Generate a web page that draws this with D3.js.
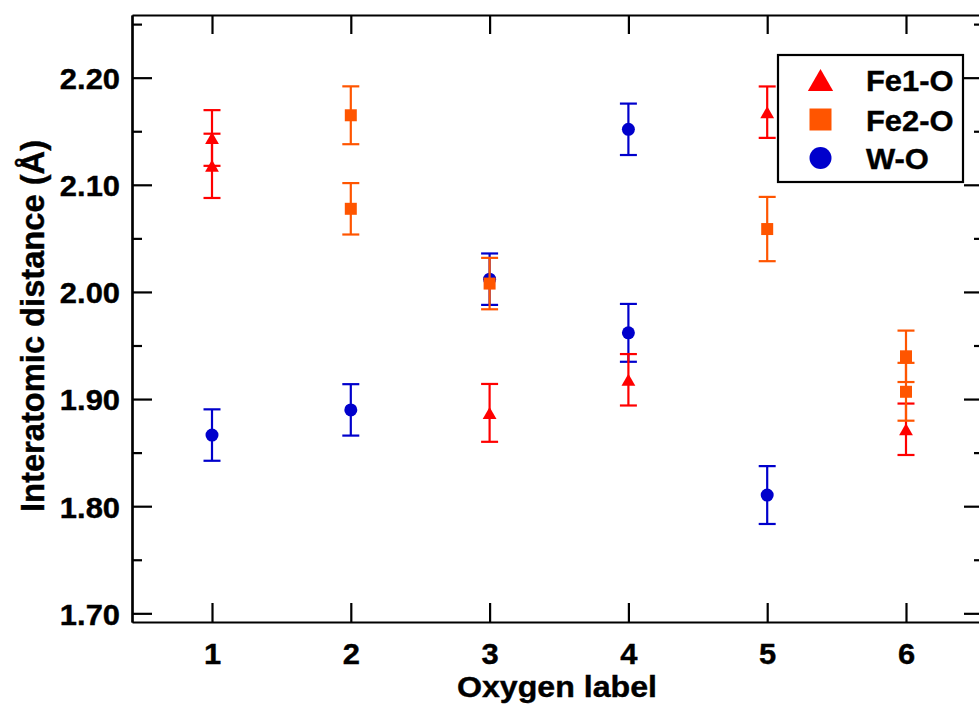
<!DOCTYPE html>
<html>
<head>
<meta charset="utf-8">
<script src="https://cdn.jsdelivr.net/npm/d3@7"></script>
<style>
  html, body { margin: 0; padding: 0; background: #fff; }
  svg { display: block; }
  text { font-family: "Liberation Sans", Arial, Helvetica, sans-serif; font-weight: bold; fill: #000;
         stroke: #000; stroke-width: 0.4px; }
</style>
</head>
<body>
<svg id="chart" width="979" height="707"></svg>
<script>
// Oxygen positions on the x axis
const oxygenLabels = [1, 2, 3, 4, 5, 6];

// Fe1-O bond lengths (Å) with their uncertainties
const fe1Oxygen = [1, 1, 3, 4, 5, 6];
const fe1Distance = [2.1437, 2.1177, 1.8871, 1.9180, 2.1678, 1.8718];
const fe1Error = [0.026, 0.030, 0.027, 0.024, 0.024, 0.024];

// Fe2-O bond lengths (Å)
const fe2Oxygen = [2, 2, 3, 5, 6, 6];
const fe2Distance = [2.1649, 2.0776, 2.0078, 2.0587, 1.9399, 1.9068];
const fe2Error = [0.027, 0.024, 0.024, 0.030, 0.024, 0.027];

// W-O bond lengths (Å)
const wOxygen = [1, 2, 3, 4, 4, 5];
const wDistance = [1.8664, 1.8899, 2.0119, 2.1518, 1.9618, 1.8104];
const wError = [0.024, 0.024, 0.024, 0.024, 0.027, 0.027];

// Axis ticks
const yMajorTicks = [1.70, 1.80, 1.90, 2.00, 2.10, 2.20];
const yMinorTicks = [1.75, 1.85, 1.95, 2.05, 2.15, 2.25];

const seriesNames = ["Fe1-O", "Fe2-O", "W-O"];
const seriesColors = ["#ff0000", "#ff5500", "#0000cc"];
const seriesShapes = ["triangle", "square", "circle"];

const svg = d3.select("#chart");
const plotLeft = 132, plotRight = 984, plotTop = 15, plotBottom = 622;

const x = d3.scaleLinear().domain([0.4236, 6.562]).range([plotLeft, plotRight]);
const y = d3.scaleLinear().domain([1.6919, 2.2585]).range([plotBottom, plotTop]);

// marker path generators, centred on their bounding boxes
function markerPath(shape, s) {
  if (shape === "triangle") {
    const w = s * 1.15, h = s;
    return `M0,${-h / 2}L${w / 2},${h / 2}L${-w / 2},${h / 2}Z`;
  }
  if (shape === "square") {
    return `M${-s / 2},${-s / 2}h${s}v${s}h${-s}Z`;
  }
  const r = s / 2;
  return `M${r},0A${r},${r} 0 1,1 ${-r},0A${r},${r} 0 1,1 ${r},0Z`;
}

// ---- axes ----
const axisStyle = g => {
  g.selectAll("path.domain").attr("stroke", "#000").attr("stroke-width", 2.2);
  g.selectAll(".tick line").attr("stroke", "#000").attr("stroke-width", 2.2);
  g.selectAll(".tick text").style("font-size", "30px").attr("fill", "#000");
};

// left: major ticks with labels, minor ticks without
svg.append("g")
  .attr("transform", `translate(${plotLeft},0)`)
  .call(d3.axisLeft(y).tickValues(yMinorTicks).tickSize(-10).tickSizeOuter(0).tickFormat(""))
  .call(axisStyle);
const yAxisG = svg.append("g")
  .attr("transform", `translate(${plotLeft},0)`)
  .call(d3.axisLeft(y).tickValues(yMajorTicks).tickSize(-20).tickSizeOuter(0)
        .tickPadding(12).tickFormat(d3.format(".2f")))
  .call(axisStyle);
yAxisG.selectAll(".tick text").attr("dy", "0.36em");

// right: mirrored ticks
svg.append("g")
  .attr("transform", `translate(${plotRight},0)`)
  .call(d3.axisRight(y).tickValues(yMinorTicks).tickSize(-10).tickSizeOuter(0).tickFormat(""))
  .call(axisStyle);
svg.append("g")
  .attr("transform", `translate(${plotRight},0)`)
  .call(d3.axisRight(y).tickValues(yMajorTicks).tickSize(-20).tickSizeOuter(0).tickFormat(""))
  .call(axisStyle);

// bottom with labels, top mirrored
const xAxisG = svg.append("g")
  .attr("transform", `translate(0,${plotBottom})`)
  .call(d3.axisBottom(x).tickValues(oxygenLabels).tickSize(-19).tickSizeOuter(0)
        .tickPadding(0).tickFormat(d3.format("d")))
  .call(axisStyle);
xAxisG.selectAll(".tick text").attr("dy", null).attr("y", 42);

svg.append("g")
  .attr("transform", `translate(0,${plotTop})`)
  .call(d3.axisTop(x).tickValues(oxygenLabels).tickSize(-19).tickSizeOuter(0).tickFormat(""))
  .call(axisStyle);

// axis titles
svg.append("text")
  .attr("x", (plotLeft + plotRight) / 2 - 1)
  .attr("y", 697)
  .attr("text-anchor", "middle")
  .attr("textLength", 200)
  .attr("lengthAdjust", "spacingAndGlyphs")
  .style("font-size", "29px")
  .text("Oxygen label");

svg.append("text")
  .attr("transform", `translate(44,326) rotate(-90)`)
  .attr("text-anchor", "middle")
  .attr("textLength", 372)
  .attr("lengthAdjust", "spacingAndGlyphs")
  .style("font-size", "32.5px")
  .text("Interatomic distance (Å)");

// ---- data series ----
const series = [
  { xs: wOxygen, ys: wDistance, es: wError, idx: 2, size: 13 },
  { xs: fe1Oxygen, ys: fe1Distance, es: fe1Error, idx: 0, size: 12 },
  { xs: fe2Oxygen, ys: fe2Distance, es: fe2Error, idx: 1, size: 12 }
];

const capHalf = 8.5;
series.forEach(s => {
  const color = seriesColors[s.idx];
  const pts = s.xs.map((v, i) => ({ o: v, d: s.ys[i], e: s.es[i] }));
  const g = svg.append("g").attr("class", "series-" + seriesNames[s.idx]);

  const bars = g.selectAll("g.err").data(pts).join("g").attr("class", "err")
    .attr("stroke", color).attr("stroke-width", 2.2).attr("fill", "none");
  bars.append("line")
    .attr("x1", p => x(p.o)).attr("x2", p => x(p.o))
    .attr("y1", p => y(p.d + p.e)).attr("y2", p => y(p.d - p.e));
  bars.append("line")
    .attr("x1", p => x(p.o) - capHalf).attr("x2", p => x(p.o) + capHalf)
    .attr("y1", p => y(p.d + p.e)).attr("y2", p => y(p.d + p.e));
  bars.append("line")
    .attr("x1", p => x(p.o) - capHalf).attr("x2", p => x(p.o) + capHalf)
    .attr("y1", p => y(p.d - p.e)).attr("y2", p => y(p.d - p.e));

  g.selectAll("path.mk").data(pts).join("path").attr("class", "mk")
    .attr("transform", p => `translate(${x(p.o)},${y(p.d)})`)
    .attr("d", markerPath(seriesShapes[s.idx], s.size))
    .attr("fill", color);
});

// ---- legend ----
const legend = svg.append("g");
legend.append("rect")
  .attr("x", 778).attr("y", 55).attr("width", 185).attr("height", 127)
  .attr("fill", "#fff").attr("stroke", "#000").attr("stroke-width", 2.2);

const legendRows = [80, 119.5, 158];
seriesNames.forEach((name, i) => {
  legend.append("path")
    .attr("transform", `translate(820.5,${legendRows[i]})`)
    .attr("d", markerPath(seriesShapes[i], 22))
    .attr("fill", seriesColors[i]);
  legend.append("text")
    .attr("x", 866).attr("y", legendRows[i] + 11)
    .style("font-size", "30px")
    .text(name);
});

// the lettering runs slightly wide
svg.selectAll(".tick text, g text").filter(function () {
  return !this.hasAttribute("textLength") && this.textContent.length > 0;
}).each(function () {
  const w = this.getComputedTextLength();
  this.setAttribute("textLength", w * 1.03);
  this.setAttribute("lengthAdjust", "spacingAndGlyphs");
});
</script>
</body>
</html>
